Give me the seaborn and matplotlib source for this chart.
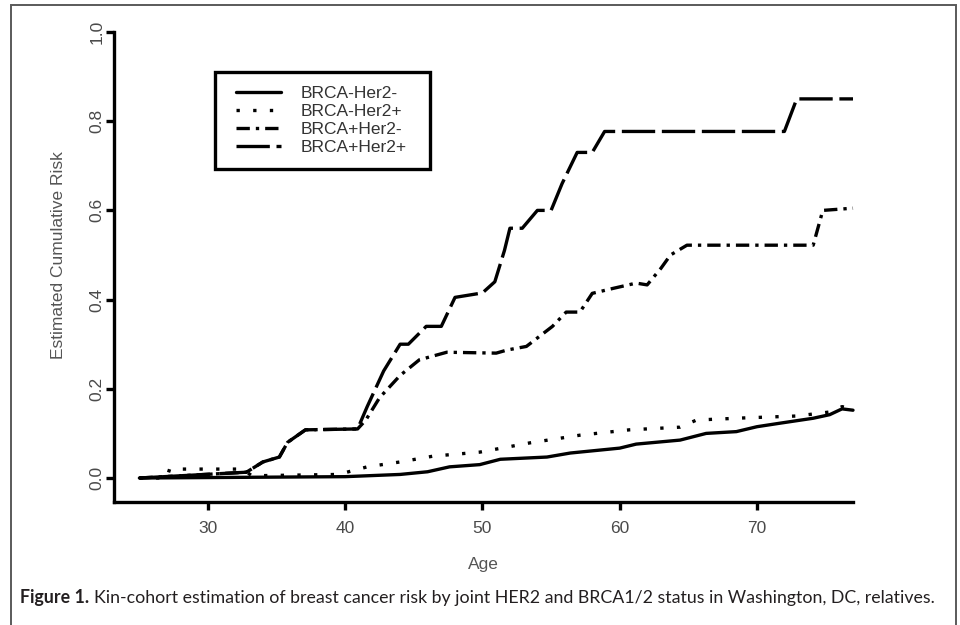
import numpy as np
import pandas as pd
import matplotlib
matplotlib.use("Agg")
import matplotlib.pyplot as plt
import seaborn as sns
from matplotlib.patches import Rectangle
from matplotlib.lines import Line2D
from matplotlib.legend_handler import HandlerLine2D

# ---------------- data ----------------
series_names = ["BRCA-Her2-", "BRCA-Her2+", "BRCA+Her2-", "BRCA+Her2+"]

age_nn = [25, 40, 44, 46, 47.6, 49.8, 51.3, 54.7, 56.4, 60, 61.2, 64.4, 66.3,
          68.5, 70, 71.7, 74.1, 75.3, 76.2, 77]
risk_nn = [0, 0.003, 0.008, 0.014, 0.025, 0.03, 0.042, 0.047, 0.056, 0.067,
           0.076, 0.085, 0.1, 0.104, 0.115, 0.123, 0.134, 0.142, 0.155, 0.152]

age_np = [25, 27.0, 27.2, 32.5, 33.2, 39.5, 41.6, 44, 46.4, 49.8, 53.5, 57.1,
          60.7, 64.4, 65.6, 69.3, 72.9, 75.3, 76.2, 77]
risk_np = [0, 0, 0.02, 0.02, 0.005, 0.008, 0.025, 0.036, 0.049, 0.058, 0.079,
           0.096, 0.108, 0.114, 0.13, 0.135, 0.139, 0.148, 0.16, 0.155]

age_pn = [25, 32.8, 34, 35.2, 35.8, 37.1, 40.9, 41.5, 42.5, 44, 45.4, 47.4, 51,
          51.8, 53.2, 55.1, 56.1, 57.1, 58, 59.5, 61.2, 62, 63, 63.7, 64.9,
          74.1, 74.8, 77]
risk_pn = [0, 0.013, 0.036, 0.047, 0.08, 0.108, 0.11, 0.13, 0.18, 0.23, 0.265,
           0.282, 0.28, 0.287, 0.295, 0.34, 0.372, 0.372, 0.414, 0.425, 0.437,
           0.433, 0.47, 0.50, 0.522, 0.522, 0.60, 0.605]

age_pp = [25, 32.8, 34, 35.2, 35.8, 37.1, 40.9, 41.6, 42.8, 44, 44.6, 45.9, 47,
          48, 50, 50.9, 51.6, 52, 52.9, 54, 55, 55.8, 56.9, 58, 58.9, 72, 72.9, 77]
risk_pp = [0, 0.013, 0.036, 0.047, 0.08, 0.108, 0.11, 0.16, 0.24, 0.30, 0.30,
           0.34, 0.34, 0.405, 0.415, 0.44, 0.51, 0.56, 0.56, 0.60, 0.60, 0.66,
           0.73, 0.73, 0.777, 0.777, 0.85, 0.85]

x_ticks = [30, 40, 50, 60, 70]
y_ticks = [0.0, 0.2, 0.4, 0.6, 0.8, 1.0]
y_tick_labels = ["0.0", "0.2", "0.4", "0.6", "0.8", "1.0"]
x_label = "Age"
y_label = "Estimated Cumulative Risk"
cap_bold = "Figure 1."
cap_rest = ("Kin-cohort estimation of breast cancer risk by joint HER2 and "
            "BRCA1/2 status in Washington, DC, relatives.")

# ---------------- build table ----------------
frames = []
for name, a, r in zip(series_names, [age_nn, age_np, age_pn, age_pp],
                      [risk_nn, risk_np, risk_pn, risk_pp]):
    frames.append(pd.DataFrame({"Age": a, "Risk": r, "Group": name}))
df = pd.concat(frames, ignore_index=True)

dash_styles = {
    "BRCA-Her2-": "",
    "BRCA-Her2+": (1, 4),
    "BRCA+Her2-": (4, 1.8, 1, 1.8),
    "BRCA+Her2+": (10, 2),
}

# ---------------- figure ----------------
sns.set_theme(style="white")
plt.rcParams["font.family"] = ["Liberation Sans", "DejaVu Sans"]

W, H = 960, 625
fig = plt.figure(figsize=(W / 100, H / 100), dpi=100)
fig.patch.set_facecolor("white")

ax_l, ax_r, ax_t, ax_b = 114, 853, 32, 502
AW, AH = ax_r - ax_l, ax_b - ax_t
ax = fig.add_axes([ax_l / W, 1 - ax_b / H, AW / W, AH / H])
ax.set_facecolor("white")

LW = 2.4
sns.lineplot(data=df, x="Age", y="Risk", style="Group", dashes=dash_styles,
             color="black", linewidth=LW, estimator=None, sort=False,
             legend=False, ax=ax)
for ln in ax.lines:
    ln.set_clip_on(False)

ax.set_xlim(23.15, 77)
ax.set_ylim(-0.0538, 1.0)

for s in ["top", "right"]:
    ax.spines[s].set_visible(False)
for s in ["left", "bottom"]:
    ax.spines[s].set_linewidth(2.4)
    ax.spines[s].set_color("black")
    ax.spines[s].set_capstyle("projecting")

tick_color = "#4a4a4a"
ax.set_xticks(x_ticks)
ax.set_xticklabels([str(v) for v in x_ticks])
ax.set_yticks(y_ticks)
ax.set_yticklabels(y_tick_labels, rotation=90, va="center")
ax.tick_params(axis="both", which="major", direction="out", length=5.8,
               width=2.4, color="black", labelsize=12.5,
               labelcolor=tick_color, bottom=True, left=True,
               top=False, right=False)
ax.tick_params(axis="x", pad=8.0)
ax.tick_params(axis="y", pad=0.8)

ax.set_xlabel(x_label, fontsize=12.5, color="#555555")
ax.set_ylabel(y_label, fontsize=12.5, color="#555555")
ax.xaxis.set_label_coords(0.5, (ax_b - 557) / AH)
ax.yaxis.set_label_coords((66 - ax_l) / AW, 0.5 + 12 / AH)

# legend
handles = []
for name in series_names:
    d = dash_styles[name]
    h = Line2D([0], [0], color="black", linewidth=LW)
    if d:
        h.set_dashes(d)
    handles.append(h)
leg_l, leg_r, leg_t = 215, 430, 72
leg = ax.legend(handles, series_names, loc="upper left",
                bbox_to_anchor=((leg_l - ax_l) / AW, 1 - (leg_t - ax_t) / AH - 0.2,
                                (leg_r - leg_l) / AW, 0.2),
                mode="expand", borderaxespad=0, frameon=True, fancybox=False,
                fontsize=12.5, handlelength=3.0, handletextpad=1.1,
                labelspacing=0.16, borderpad=0.82,
                handler_map={Line2D: HandlerLine2D(xpad=0.4)})
for t in leg.get_texts():
    t.set_color("#333333")
fr = leg.get_frame()
fr.set_edgecolor("black")
fr.set_linewidth(2.4)
fr.set_facecolor("white")
fr.set_alpha(1)

# outer border of the figure panel
border = Rectangle((11 / W, -0.2), (956 - 11) / W, (1 - 5 / H) + 0.2,
                   transform=fig.transFigure, fill=False,
                   edgecolor="#5a5a5a", linewidth=1.4, clip_on=False)
fig.add_artist(border)

# caption, fitted to the reference width
cap_color = "#231f20"
cap_font = ["Lato", "DejaVu Sans"]
fs = 12.0
t1 = fig.text(20 / W, 1 - 603 / H, cap_bold, fontweight="bold",
              family=cap_font, fontsize=fs, va="baseline", color=cap_color)
t2 = fig.text(0.1, 1 - 603 / H, cap_rest, family=cap_font, fontsize=fs,
              va="baseline", color=cap_color)
for _ in range(4):
    t1.set_fontsize(fs)
    t2.set_fontsize(fs)
    fig.canvas.draw()
    r = fig.canvas.get_renderer()
    b1 = t1.get_window_extent(r)
    t2.set_x((b1.x1 + fs * 0.26 * 100 / 72) / W)
    fig.canvas.draw()
    b2 = t2.get_window_extent(r)
    fs *= (935 - 20) / (b2.x1 - b1.x0)

fig.savefig("out.png", dpi=100)
